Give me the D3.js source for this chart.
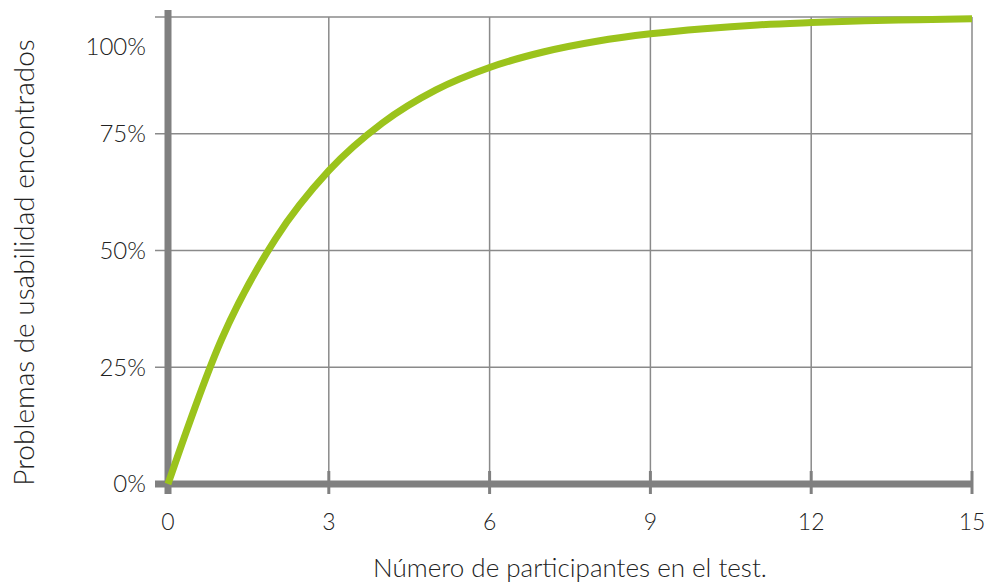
<!DOCTYPE html>
<html>
<head>
<meta charset="utf-8">
<script src="https://cdn.jsdelivr.net/npm/d3@7"></script>
<style>
  html, body { margin: 0; padding: 0; background: #fff; }
  svg text { font-family: "Lato", "Open Sans", sans-serif; font-weight: 300; fill: #222; }
</style>
</head>
<body>
<svg id="chart" width="989" height="583"></svg>
<script>
// Usability problems found vs. number of test participants
const participants = [0, 1, 2, 3, 4, 5, 6, 7, 8, 9, 10, 11, 12, 13, 14, 15];
const problemsFound = [0, 31, 52.4, 67.1, 77.3, 84.4, 89.2, 92.5, 94.8, 96.4, 97.5, 98.3, 98.8, 99.2, 99.4, 99.6];
const xTicks = [0, 3, 6, 9, 12, 15];
const yTicks = [0, 25, 50, 75, 100];
const yTickLabels = ["0%", "25%", "50%", "75%", "100%"];
const xTitle = "Número de participantes en el test.";
const yTitle = "Problemas de usabilidad encontrados";

const svg = d3.select("#chart");
const plotLeft = 168, plotRight = 972, plotTop = 17, plotBottom = 484;

const x = d3.scaleLinear().domain([0, 15]).range([plotLeft, plotRight]);
const y = d3.scaleLinear().domain([0, 100]).range([plotBottom, plotTop]);

const grid = "#8a8a8a", axisColor = "#808080";

// horizontal grid lines with short ticks on the left
svg.append("g").selectAll("line").data(yTicks.filter(d => d > 0)).join("line")
  .attr("x1", plotLeft - 13).attr("x2", plotRight)
  .attr("y1", d => y(d)).attr("y2", d => y(d))
  .attr("stroke", grid).attr("stroke-width", 1.5);

// vertical grid lines
svg.append("g").selectAll("line").data(xTicks.filter(d => d > 0)).join("line")
  .attr("x1", d => x(d)).attr("x2", d => x(d))
  .attr("y1", plotTop).attr("y2", plotBottom)
  .attr("stroke", grid).attr("stroke-width", 1.5);

// tick marks crossing the x axis
svg.append("g").selectAll("line").data(xTicks.filter(d => d > 0)).join("line")
  .attr("x1", d => x(d)).attr("x2", d => x(d))
  .attr("y1", plotBottom - 13).attr("y2", plotBottom + 10)
  .attr("stroke", axisColor).attr("stroke-width", 3);

// axes
svg.append("line").attr("x1", plotLeft).attr("x2", plotLeft)
  .attr("y1", plotTop - 7).attr("y2", plotBottom + 10)
  .attr("stroke", axisColor).attr("stroke-width", 7);
svg.append("line").attr("x1", plotLeft - 13).attr("x2", plotRight)
  .attr("y1", plotBottom).attr("y2", plotBottom)
  .attr("stroke", axisColor).attr("stroke-width", 7);

// curve
const line = d3.line()
  .x((d, i) => x(participants[i]))
  .y(d => y(d))
  .curve(d3.curveMonotoneX);
svg.append("path").datum(problemsFound)
  .attr("d", line)
  .attr("fill", "none")
  .attr("stroke", "#9bc31c")
  .attr("stroke-width", 7)
  .attr("stroke-linecap", "butt");

// y tick labels (the top label sits below its line)
svg.append("g").selectAll("text").data(yTicks).join("text")
  .attr("x", plotLeft - 22)
  .attr("y", d => y(d) + (d === 100 ? 30 : 0))
  .attr("dy", "0.35em")
  .attr("text-anchor", "end")
  .attr("font-size", 24)
  .text((d, i) => yTickLabels[i]);

// x tick labels
svg.append("g").selectAll("text").data(xTicks).join("text")
  .attr("x", d => x(d))
  .attr("y", 522)
  .attr("dy", "0.35em")
  .attr("text-anchor", "middle")
  .attr("font-size", 23)
  .text(d => d);

// axis titles
svg.append("text")
  .attr("x", (plotLeft + plotRight) / 2).attr("y", 568)
  .attr("dy", "0.35em").attr("text-anchor", "middle")
  .attr("font-size", 26).text(xTitle);
svg.append("text")
  .attr("transform", `translate(24, ${(plotTop + plotBottom) / 2 + 12}) rotate(-90)`)
  .attr("dy", "0.35em").attr("text-anchor", "middle")
  .attr("font-size", 28).text(yTitle);
</script>
</body>
</html>
